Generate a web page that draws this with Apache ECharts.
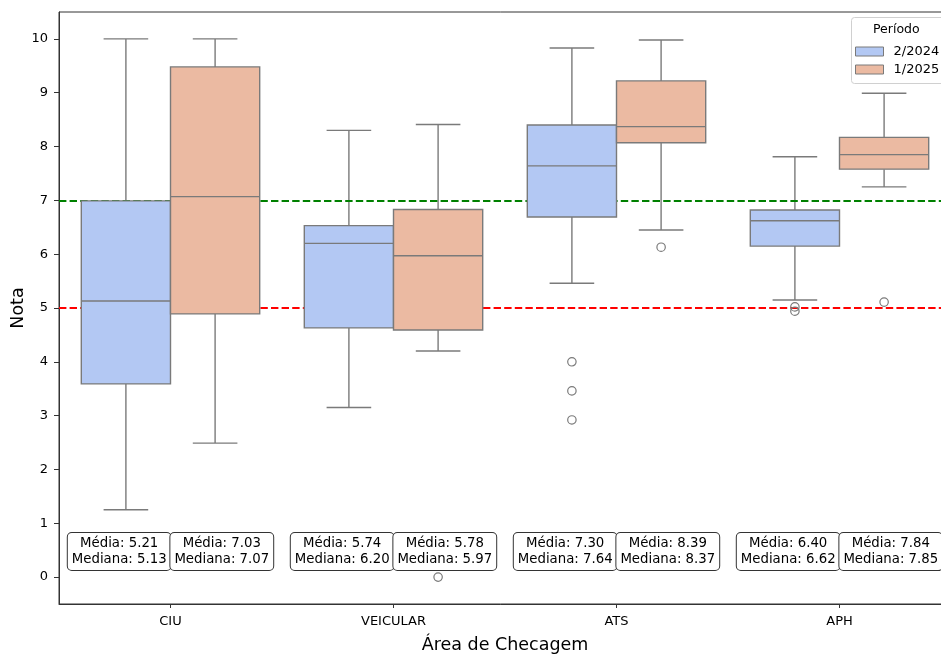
<!DOCTYPE html>
<html>
<head>
<meta charset="utf-8">
<script src="https://cdn.jsdelivr.net/npm/echarts@6/dist/echarts.min.js"></script>
<style>html,body{margin:0;padding:0;background:#fff}#c{width:941px;height:654px}</style>
</head>
<body>
<div id="c"></div>
<script>
// ---------- data ----------
const categories = ['CIU', 'VEICULAR', 'ATS', 'APH'];
const periods = ['2/2024', '1/2025'];
// [lower whisker, Q1, median, Q3, upper whisker]
const stats2024 = [
  [1.25, 3.59, 5.13, 6.99, 10.0],
  [3.15, 4.63, 6.20, 6.53, 8.30],
  [5.46, 6.69, 7.64, 8.40, 9.83],
  [5.15, 6.15, 6.62, 6.82, 7.81]
];
const stats2025 = [
  [2.49, 4.89, 7.07, 9.48, 10.0],
  [4.20, 4.59, 5.97, 6.83, 8.41],
  [6.45, 8.07, 8.37, 9.22, 9.98],
  [7.25, 7.58, 7.85, 8.17, 8.99]
];
const outliers2024 = [[], [], [4.0, 3.46, 2.92], [5.02, 4.94]];
const outliers2025 = [[], [0.0], [6.13], [5.11]];
const means2024 = [5.21, 5.74, 7.30, 6.40];
const means2025 = [7.03, 5.78, 8.39, 7.84];
const thresholds = [7, 5];
const yTicks = [0, 1, 2, 3, 4, 5, 6, 7, 8, 9, 10];

// ---------- styling ----------
const FONT = 'DejaVu Sans';
const colors = ['#b3c8f3', '#ebbaa2'];
const lineColor = '#7a7a7a';
const annotY = 0.474;
const annotOffset = 0.23;

const statsByHue = [stats2024, stats2025];
const outByHue = [outliers2024, outliers2025];
const meansByHue = [means2024, means2025];

function geom(api, hue, offFrac) {
  const ci = api.value(0);
  const bw = api.size([1, 0])[0];
  const f = offFrac === undefined ? 0.2 : offFrac;
  const off = (hue === 0 ? -f : f) * bw;
  return { ci: ci, bw: bw, w: 0.4 * bw, x: api.coord([ci, 0])[0] + off };
}

function whiskerRender(hue) {
  return function (params, api) {
    const g = geom(api, hue);
    const y = function (d) { return api.coord([g.ci, api.value(d)])[1]; };
    const half = g.w * 0.25;
    const ls = { stroke: lineColor, lineWidth: 1.4 };
    return {
      type: 'group',
      children: [
        { type: 'line', shape: { x1: g.x, y1: y(4), x2: g.x, y2: y(5) }, style: ls },
        { type: 'line', shape: { x1: g.x, y1: y(2), x2: g.x, y2: y(1) }, style: ls },
        { type: 'line', shape: { x1: g.x - half, y1: y(5), x2: g.x + half, y2: y(5) }, style: ls },
        { type: 'line', shape: { x1: g.x - half, y1: y(1), x2: g.x + half, y2: y(1) }, style: ls }
      ]
    };
  };
}

function boxRender(hue) {
  return function (params, api) {
    const g = geom(api, hue);
    const y = function (d) { return api.coord([g.ci, api.value(d)])[1]; };
    const yq1 = y(2), yq3 = y(4), ym = y(3);
    return {
      type: 'group',
      children: [
        { type: 'rect', shape: { x: g.x - g.w / 2, y: yq3, width: g.w, height: yq1 - yq3 },
          style: { fill: colors[hue], stroke: lineColor, lineWidth: 1.4 } },
        { type: 'line', shape: { x1: g.x - g.w / 2, y1: ym, x2: g.x + g.w / 2, y2: ym },
          style: { stroke: lineColor, lineWidth: 1.4 } }
      ]
    };
  };
}

function outlierRender(hue) {
  return function (params, api) {
    const g = geom(api, hue);
    const p = api.coord([g.ci, api.value(1)]);
    return { type: 'circle', shape: { cx: g.x, cy: p[1], r: 4.2 },
      style: { fill: 'none', stroke: lineColor, lineWidth: 1.2 } };
  };
}

function annotRender(hue) {
  return function (params, api) {
    const g = geom(api, hue, annotOffset);
    const p = api.coord([g.ci, annotY]);
    const txt = 'Média: ' + api.value(1).toFixed(2) + '\nMediana: ' + api.value(2).toFixed(2);
    return {
      type: 'text',
      style: {
        text: txt, x: g.x, y: p[1], align: 'center', verticalAlign: 'middle',
        fontSize: 13.3, fontFamily: FONT, fill: '#000', lineHeight: 15.5,
        backgroundColor: '#fff', borderColor: '#333', borderWidth: 1, borderRadius: 4,
        padding: [3, 4, 3, 4]
      }
    };
  };
}

const series = [];
periods.forEach(function (name, hue) {
  const boxData = statsByHue[hue].map(function (s, i) { return [i].concat(s); });
  const whisk = {
    name: name, type: 'custom', z: 1, silent: true,
    itemStyle: { color: colors[hue] },
    renderItem: whiskerRender(hue),
    encode: { x: 0, y: [1, 2, 3, 4, 5] },
    data: boxData
  };
  if (hue === 0) {
    whisk.markLine = {
      z: 2, silent: true, symbol: 'none', animation: false,
      label: { show: false },
      lineStyle: { type: [7.4, 3.2], width: 2 },
      data: thresholds.map(function (t, k) {
        return { yAxis: t, lineStyle: { color: k === 0 ? '#008000' : '#ff0000', type: [7.4, 3.2], width: 2 } };
      })
    };
  }
  series.push(whisk);
  series.push({
    name: name, type: 'custom', z: 3, silent: true,
    itemStyle: { color: colors[hue], borderColor: lineColor },
    renderItem: boxRender(hue),
    encode: { x: 0, y: [1, 2, 3, 4, 5] },
    data: boxData
  });
  const od = [];
  outByHue[hue].forEach(function (arr, i) { arr.forEach(function (v) { od.push([i, v]); }); });
  series.push({
    name: name, type: 'custom', z: 3, silent: true,
    itemStyle: { color: colors[hue] },
    renderItem: outlierRender(hue),
    encode: { x: 0, y: 1 },
    data: od
  });
  series.push({
    name: name, type: 'custom', z: 4, silent: true,
    itemStyle: { color: colors[hue] },
    renderItem: annotRender(hue),
    encode: { x: 0 },
    data: meansByHue[hue].map(function (m, i) { return [i, m, statsByHue[hue][i][2]]; })
  });
});

const chart = echarts.init(document.getElementById('c'), null, { renderer: 'canvas' });
chart.setOption({
  animation: false,
  backgroundColor: '#fff',
  textStyle: { fontFamily: FONT },
  grid: { left: 59, right: -10, top: 12, bottom: 50, show: true, borderColor: '#333', borderWidth: 1,
          backgroundColor: 'transparent', containLabel: false, outerBoundsMode: 'none' },
  xAxis: {
    type: 'category', data: categories,
    name: 'Área de Checagem', nameLocation: 'middle', nameGap: 32, nameMoveOverlap: false,
    nameTextStyle: { fontSize: 17.5, color: '#000', fontFamily: FONT },
    axisLine: { show: true, onZero: false, lineStyle: { color: '#333' } },
    axisTick: { show: true, alignWithLabel: true, length: 4, lineStyle: { color: '#333' } },
    axisLabel: { fontSize: 13, color: '#000', margin: 11, fontFamily: FONT },
    splitLine: { show: false }
  },
  yAxis: {
    type: 'value', min: -0.5, max: 10.5,
    name: 'Nota', nameLocation: 'middle', nameGap: 32, nameRotate: 90, nameMoveOverlap: false,
    nameTextStyle: { fontSize: 17.5, color: '#000', fontFamily: FONT },
    axisLine: { show: true, onZero: false, lineStyle: { color: '#333' } },
    axisTick: { show: true, length: 5, customValues: yTicks, lineStyle: { color: '#333' } },
    axisLabel: { fontSize: 13, color: '#000', margin: 11, customValues: yTicks, fontFamily: FONT },
    splitLine: { show: false }
  },
  legend: {
    z: 10,
    orient: 'vertical', left: 850, top: 17,
    padding: [28, 5, 6, 5], itemGap: 5,
    itemWidth: 28, itemHeight: 9, icon: 'rect',
    textStyle: { fontSize: 13, color: '#000', fontFamily: FONT, padding: [0, 0, 0, 5] },
    data: periods.map(function (p, i) {
      return { name: p, itemStyle: { color: colors[i], borderColor: lineColor, borderWidth: 1 } };
    })
  },
  graphic: [
    {
      type: 'rect', z: 9, left: 851, top: 17,
      shape: { width: 120, height: 66, r: 3 },
      style: { fill: '#fff', stroke: '#d0d0d0', lineWidth: 1 }
    },
    {
      type: 'text', z: 11, left: 873, top: 23,
      style: { text: 'Período', fontSize: 12.5, fontFamily: FONT, fill: '#000' }
    }
  ],
  series: series
});
</script>
</body>
</html>
